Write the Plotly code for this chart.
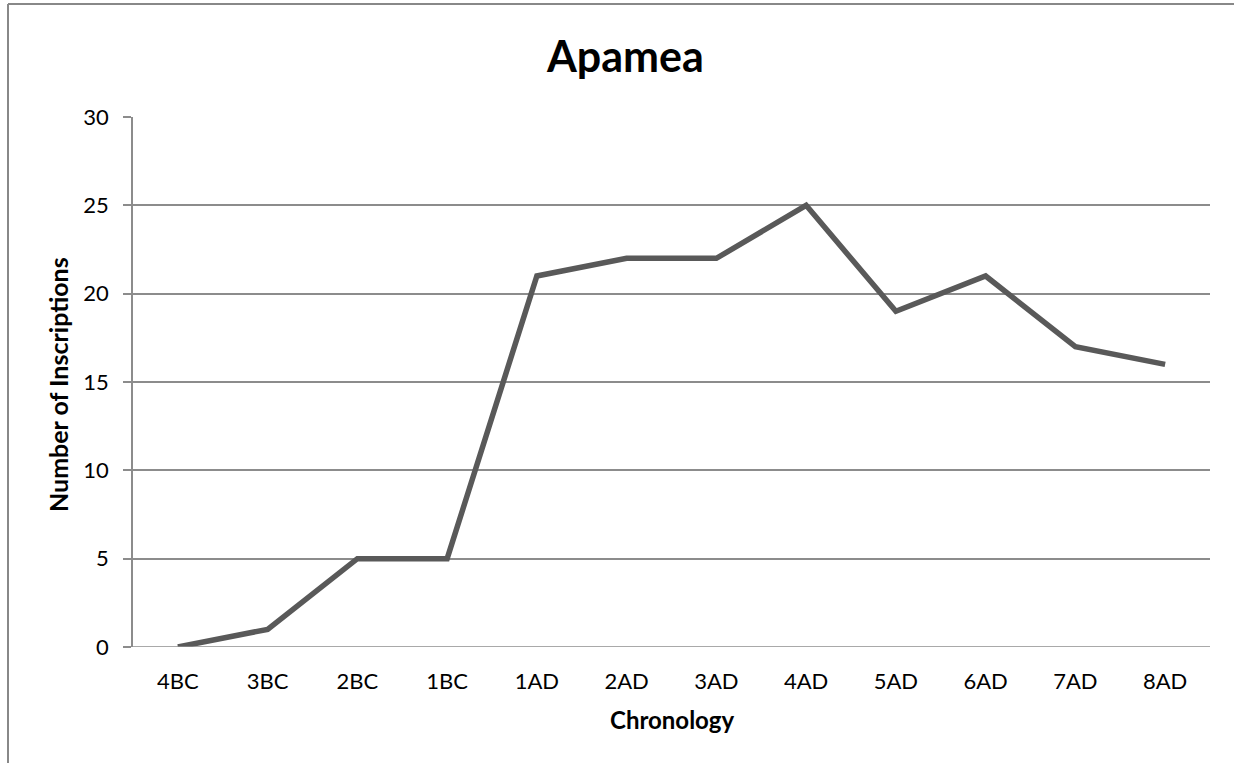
import plotly.graph_objects as go

categories = ["4BC", "3BC", "2BC", "1BC", "1AD", "2AD", "3AD", "4AD", "5AD", "6AD", "7AD", "8AD"]
inscriptions = [0, 1, 5, 5, 21, 22, 22, 25, 19, 21, 17, 16]
y_ticks = [0, 5, 10, 15, 20, 25, 30]

W, H = 1234, 763
L, R, T, B = 133, 1210, 117, 647
pw, ph = R - L, B - T
FONT = "Lato, Open Sans, sans-serif"
GRID = "#8c8c8c"

fig = go.Figure()
fig.add_trace(go.Scatter(
    x=categories, y=inscriptions, mode="lines",
    line=dict(color="#595959", width=5.5), hoverinfo="x+y", showlegend=False,
))

def px(x):
    return (x - L) / pw

def py(y):
    return (B - y) / ph

fig.update_layout(
    width=W, height=H,
    margin=dict(l=L, r=W - R, t=T, b=H - B, pad=0),
    paper_bgcolor="white", plot_bgcolor="white",
    showlegend=False,
    xaxis=dict(
        type="category", range=[-0.5, len(categories) - 0.5],
        showgrid=False, zeroline=False, showline=False,
        ticks="", tickfont=dict(family=FONT, size=22, color="#000"),
        ticklabelstandoff=19,
        fixedrange=True,
    ),
    yaxis=dict(
        range=[0, 30], tickvals=y_ticks,
        showgrid=True, gridcolor=GRID, gridwidth=1.5,
        zeroline=False, showline=True, linecolor=GRID, linewidth=1.5,
        ticks="outside", ticklen=8, tickcolor=GRID, tickwidth=1.5,
        tickfont=dict(family=FONT, size=22, color="#000"),
        ticklabelstandoff=10,
        fixedrange=True,
    ),
    shapes=[
        dict(type="line", xref="paper", yref="paper",
             x0=px(8), x1=px(8), y0=py(4), y1=py(763),
             line=dict(color="#888888", width=2)),
        dict(type="line", xref="paper", yref="paper",
             x0=px(8), x1=px(1234), y0=py(4), y1=py(4),
             line=dict(color="#888888", width=2)),
        dict(type="line", xref="paper", yref="y",
             x0=px(125), x1=1, y0=0, y1=0,
             line=dict(color=GRID, width=1.5)),
    ],
    annotations=[
        dict(text="<b>Apamea</b>", xref="paper", yref="paper",
             x=px(625), y=py(55), showarrow=False,
             font=dict(family=FONT, size=43, color="#000"),
             xanchor="center", yanchor="middle"),
        dict(text="<b>Number of Inscriptions</b>", xref="paper", yref="paper",
             x=px(58), y=py(385), showarrow=False, textangle=-90,
             font=dict(family=FONT, size=25, color="#000"),
             xanchor="center", yanchor="middle"),
        dict(text="<b>Chronology</b>", xref="paper", yref="paper",
             x=px(672), y=py(719), showarrow=False,
             font=dict(family=FONT, size=24, color="#000"),
             xanchor="center", yanchor="middle"),
    ],
)

fig.write_html("out.html", config={"displayModeBar": False},
               post_script="document.body.style.margin='0';")
